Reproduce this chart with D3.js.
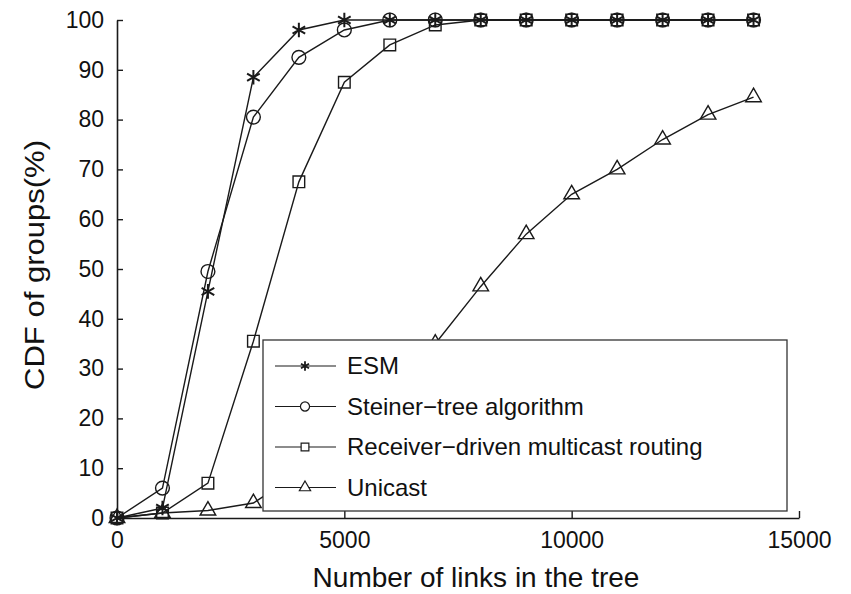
<!DOCTYPE html>
<html>
<head>
<meta charset="utf-8">
<script src="https://cdn.jsdelivr.net/npm/d3@7"></script>
<style>
  body { margin: 0; background: #fff; }
  text { font-family: "Liberation Sans", Arial, sans-serif; fill: #111; }
</style>
</head>
<body>
<svg id="chart" width="851" height="594"></svg>
<script>
// data
const xValues = [0, 1000, 2000, 3000, 4000, 5000, 6000, 7000, 8000, 9000, 10000, 11000, 12000, 13000, 14000];
const esm      = [0, 2, 45.5, 88.5, 98, 100, 100, 100, 100, 100, 100, 100, 100, 100, 100];
const steiner  = [0, 6, 49.5, 80.5, 92.5, 98, 100, 100, 100, 100, 100, 100, 100, 100, 100];
const receiver = [0, 1, 7, 35.5, 67.5, 87.5, 95, 99, 100, 100, 100, 100, 100, 100, 100];
const unicast  = [0, 1, 1.5, 3, 9, 17, 26, 35, 46.5, 57, 65, 70, 76, 81, 84.5];
const seriesNames = ["ESM", "Steiner\u2212tree algorithm", "Receiver\u2212driven multicast routing", "Unicast"];
const xTicks = [0, 5000, 10000, 15000];
const yTicks = [0, 10, 20, 30, 40, 50, 60, 70, 80, 90, 100];

const svg = d3.select("#chart");
const plotLeft = 117, plotRight = 799, plotTop = 20, plotBottom = 518;
const ink = "#1a1a1a";

const x = d3.scaleLinear().domain([0, 15000]).range([plotLeft, plotRight]);
const y = d3.scaleLinear().domain([0, 100]).range([plotBottom, plotTop]);

// axes
const xAxis = svg.append("g")
    .attr("transform", `translate(0,${plotBottom})`)
    .call(d3.axisBottom(x).tickValues(xTicks).tickFormat(d3.format("d"))
        .tickSizeInner(-7).tickSizeOuter(0).tickPadding(14));
const yAxis = svg.append("g")
    .attr("transform", `translate(${plotLeft},0)`)
    .call(d3.axisLeft(y).tickValues(yTicks).tickSizeInner(-6).tickSizeOuter(0).tickPadding(13));

[xAxis, yAxis].forEach(a => {
    a.select(".domain").attr("stroke", ink).attr("stroke-width", 1.6);
    a.selectAll(".tick line").attr("stroke", ink).attr("stroke-width", 1.4);
    a.selectAll(".tick text").attr("font-size", 23).attr("fill", ink)
        .style("font-family", "'Liberation Sans', Arial, sans-serif");
});
xAxis.selectAll(".tick text").attr("dy", "0.71em");

svg.append("text")
    .attr("x", 476).attr("y", 587)
    .attr("text-anchor", "middle")
    .attr("font-size", 28)
    .text("Number of links in the tree");

svg.append("text")
    .attr("transform", "translate(44,265) rotate(-90)")
    .attr("text-anchor", "middle")
    .attr("font-size", 27)
    .attr("textLength", 250)
    .attr("lengthAdjust", "spacingAndGlyphs")
    .text("CDF of groups(%)");

// series
const series = [
    {name: seriesNames[0], values: esm, symbol: d3.symbolAsterisk, size: 150, legendSize: 60},
    {name: seriesNames[1], values: steiner, symbol: d3.symbolCircle, size: 150, legendSize: 65},
    {name: seriesNames[2], values: receiver, symbol: d3.symbolSquare, size: 135, legendSize: 60},
    {name: seriesNames[3], values: unicast, symbol: d3.symbolTriangle, size: 105, legendSize: 55}
];

const line = d3.line().x((d, i) => x(xValues[i])).y(d => y(d));

const plot = svg.append("g");
series.forEach(s => {
    plot.append("path")
        .datum(s.values)
        .attr("fill", "none")
        .attr("stroke", ink)
        .attr("stroke-width", 1.4)
        .attr("d", line);
    plot.selectAll(null)
        .data(s.values)
        .join("path")
        .attr("transform", (d, i) => `translate(${x(xValues[i])},${y(d)})`)
        .attr("d", d3.symbol(s.symbol, s.size))
        .attr("fill", "none")
        .attr("stroke", ink)
        .attr("stroke-width", s.symbol === d3.symbolAsterisk ? 2 : 1.4);
});

// legend
const legend = svg.append("g").attr("transform", "translate(263,340)");
legend.append("rect")
    .attr("width", 524).attr("height", 171)
    .attr("fill", "#fff")
    .attr("stroke", "#333").attr("stroke-width", 1.3);

const rows = legend.selectAll(".row")
    .data(series)
    .join("g")
    .attr("transform", (d, i) => `translate(0,${26 + i * 40.5})`);
rows.append("line")
    .attr("x1", 12).attr("x2", 73)
    .attr("stroke", ink).attr("stroke-width", 1.2);
rows.append("path")
    .attr("transform", "translate(42,0)")
    .attr("d", d => d3.symbol(d.symbol, d.legendSize)())
    .attr("fill", "#fff")
    .attr("stroke", ink).attr("stroke-width", d => d.symbol === d3.symbolAsterisk ? 1.8 : 1.2);
rows.append("text")
    .attr("x", 84).attr("dy", "0.35em")
    .attr("font-size", 24)
    .text(d => d.name);
</script>
</body>
</html>
